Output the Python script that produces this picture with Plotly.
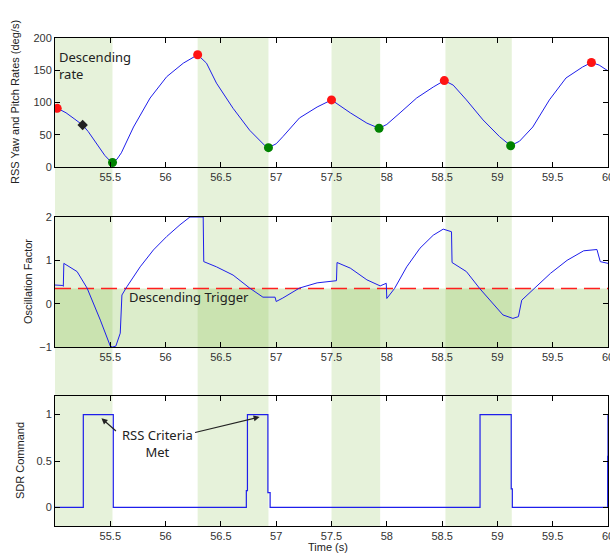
import plotly.graph_objects as go

# ---------------- data ----------------
band_start = [55.0, 56.29, 57.50, 58.53]
band_end = [55.52, 56.93, 57.94, 59.13]

rate_t = [55.0, 55.02, 55.1, 55.18, 55.25, 55.3, 55.35, 55.4, 55.45, 55.5, 55.52, 55.56, 55.6,
          55.71, 55.86, 56.01, 56.16, 56.29, 56.37, 56.46, 56.61, 56.76, 56.91, 56.93, 57.0,
          57.06, 57.21, 57.37, 57.5, 57.67, 57.82, 57.93, 58.0, 58.12, 58.27, 58.42, 58.52,
          58.6, 58.72, 58.87, 59.02, 59.12, 59.2, 59.32, 59.47, 59.62, 59.77, 59.85, 59.92, 60.0]
rate_v = [93, 91, 84, 74, 65, 55, 42, 30, 18, 9, 7, 12, 22,
          62, 107, 140, 161, 174, 161, 130, 91, 57, 31, 30, 36,
          47, 76, 93, 104, 84, 68, 60, 66, 84, 107, 124, 134,
          127, 104, 73, 47, 33, 40, 62, 104, 138, 155, 162, 158, 149]

peak_t = [55.02, 56.29, 57.5, 58.52, 59.85]
peak_v = [91, 174, 104, 134, 162]
valley_t = [55.52, 56.93, 57.93, 59.12]
valley_v = [7, 30, 60, 33]
desc_t = [55.25]
desc_v = [65]

osc_t = [55.0, 55.07, 55.075, 55.08, 55.2, 55.29, 55.41, 55.5, 55.52, 55.55, 55.59, 55.605,
         55.65, 55.77, 55.89, 56.01, 56.13, 56.22, 56.34, 56.345, 56.46, 56.61, 56.76, 56.88,
         56.99, 57.0, 57.06, 57.21, 57.37, 57.545, 57.55, 57.67, 57.82, 57.94, 57.995, 58.0,
         58.07, 58.18, 58.3, 58.42, 58.51, 58.585, 58.59, 58.72, 58.84, 58.96, 59.05, 59.14,
         59.19, 59.22, 59.33, 59.48, 59.63, 59.78, 59.9, 59.93, 60.0]
osc_v = [0.43, 0.42, 0.40, 0.93, 0.74, 0.36, -0.38, -0.98, -1.0, -0.98, -0.68, 0.2,
         0.39, 0.85, 1.24, 1.55, 1.82, 2.0, 2.0, 0.97, 0.85, 0.66, 0.36, 0.15,
         0.15, 0.05, 0.13, 0.36, 0.48, 0.53, 0.95, 0.82, 0.55, 0.41, 0.47, 0.12,
         0.35, 0.85, 1.28, 1.58, 1.72, 1.66, 0.95, 0.74, 0.35, 0.01, -0.26, -0.34,
         -0.30, 0.08, 0.35, 0.70, 1.0, 1.22, 1.25, 0.97, 0.93]
trigger_level = 0.35

sdr_t = [55.0, 55.256, 55.527, 56.73, 56.74, 56.925, 56.945, 58.843, 59.125, 59.135, 59.997, 60.0]
sdr_v = [0, 1, 0, 0.18, 1, 0.16, 0, 1, 0.2, 0, 0.55, 1]

x_ticks = [55.5, 56, 56.5, 57, 57.5, 58, 58.5, 59, 59.5, 60]
x_tick_text = ["55.5", "56", "56.5", "57", "57.5", "58", "58.5", "59", "59.5", "60"]
rate_ticks = [0, 50, 100, 150, 200]
osc_ticks = [-1, 0, 1, 2]
sdr_ticks = [0, 0.5, 1]
sdr_tick_text = ["0", "0.5", "1"]

# ---------------- layout geometry ----------------
W, H = 610, 556
def fx(px):
    return px / W
def fy(px):
    return 1 - px / H

XDOM = [fx(55), fx(608)]
DOM1 = [fy(167), fy(38)]
DOM2 = [fy(347), fy(217)]
DOM3 = [fy(526), fy(396)]

LINE = "rgb(30,30,235)"
TICKFONT = dict(family="Liberation Sans, Arial", size=11, color="#333333")
NOTEFONT = dict(family="Noto Sans, Open Sans", size=13, color="#222222")
LABELFONT = dict(family="Liberation Sans, Arial", size=11, color="#222222")

fig = go.Figure()

fig.add_trace(go.Scatter(x=rate_t, y=rate_v, mode="lines", line=dict(color=LINE, width=1),
                         xaxis="x", yaxis="y", showlegend=False))
fig.add_trace(go.Scatter(x=peak_t, y=peak_v, mode="markers",
                         marker=dict(color="rgb(255,20,20)", size=9), xaxis="x", yaxis="y",
                         showlegend=False))
fig.add_trace(go.Scatter(x=valley_t, y=valley_v, mode="markers",
                         marker=dict(color="rgb(0,130,0)", size=9), xaxis="x", yaxis="y",
                         showlegend=False))
fig.add_trace(go.Scatter(x=desc_t, y=desc_v, mode="markers",
                         marker=dict(color="#222222", size=8, symbol="diamond"),
                         xaxis="x", yaxis="y", showlegend=False))

fig.add_trace(go.Scatter(x=[55, 60], y=[trigger_level, trigger_level], mode="lines",
                         line=dict(color="rgb(255,30,30)", width=1.5, dash="16px,7px"),
                         xaxis="x2", yaxis="y2", showlegend=False))
fig.add_trace(go.Scatter(x=osc_t, y=osc_v, mode="lines", line=dict(color=LINE, width=1),
                         xaxis="x2", yaxis="y2", showlegend=False))

fig.add_trace(go.Scatter(x=sdr_t, y=sdr_v, mode="lines", line=dict(color=LINE, width=1.2, shape="hv"),
                         xaxis="x3", yaxis="y3", showlegend=False))

shapes = []
for s, e in zip(band_start, band_end):
    shapes.append(dict(type="rect", xref="x", yref="paper", x0=s, x1=e, y0=DOM3[0], y1=DOM1[1],
                       fillcolor="rgba(130,190,70,0.2)", line=dict(width=0), layer="below"))
shapes.append(dict(type="rect", xref="x2", yref="y2", x0=55, x1=60, y0=-1, y1=trigger_level,
                   fillcolor="rgba(130,190,70,0.28)", line=dict(width=0), layer="below"))

def xaxis(anchor):
    return dict(domain=XDOM, range=[55, 60], anchor=anchor, tickvals=x_ticks, ticktext=x_tick_text,
                ticks="inside", ticklen=5, tickcolor="black", showline=True, linecolor="black",
                linewidth=1, mirror="ticks", showgrid=False, zeroline=False, tickfont=TICKFONT,
                automargin=False, ticklabeloverflow="allow")

def yaxis(anchor, dom, rng, tv, tt=None):
    d = dict(domain=dom, range=rng, anchor=anchor, tickvals=tv, ticks="inside", ticklen=5,
             tickcolor="black", showline=True, linecolor="black", linewidth=1, mirror="ticks",
             showgrid=False, zeroline=False, tickfont=TICKFONT, automargin=False,
             ticklabeloverflow="allow")
    if tt is not None:
        d["ticktext"] = tt
    return d

annotations = [
    dict(text="Descending<br>rate", x=fx(57), y=fy(46), xref="paper", yref="paper",
         xanchor="left", yanchor="top", showarrow=False, align="left", font=NOTEFONT),
    dict(text="Descending Trigger", x=fx(127), y=fy(297), xref="paper", yref="paper",
         xanchor="left", yanchor="middle", showarrow=False, font=NOTEFONT),
    dict(text="RSS Criteria<br>Met", x=fx(157), y=fy(443), xref="paper", yref="paper",
         xanchor="center", yanchor="middle", showarrow=False, align="center", font=NOTEFONT),
    dict(text="", x=55.42, y=0.96, xref="x3", yref="y3", showarrow=True, ax=16, ay=14,
         arrowhead=2, arrowsize=1, arrowwidth=1.2, arrowcolor="#222222"),
    dict(text="", x=56.85, y=0.975, xref="x3", yref="y3", showarrow=True, ax=-66, ay=16,
         arrowhead=2, arrowsize=1, arrowwidth=1.2, arrowcolor="#222222"),
    dict(text="RSS Yaw and Pitch Rates (deg/s)", x=fx(15), y=fy(102), xref="paper", yref="paper",
         textangle=-90, showarrow=False, xanchor="center", yanchor="middle", font=LABELFONT),
    dict(text="Oscillation Factor", x=fx(28), y=fy(282), xref="paper", yref="paper",
         textangle=-90, showarrow=False, xanchor="center", yanchor="middle", font=LABELFONT),
    dict(text="SDR Command", x=fx(20), y=fy(461), xref="paper", yref="paper",
         textangle=-90, showarrow=False, xanchor="center", yanchor="middle", font=LABELFONT),
    dict(text="Time (s)", x=fx(328), y=fy(547), xref="paper", yref="paper",
         showarrow=False, xanchor="center", yanchor="middle", font=LABELFONT),
]

fig.update_layout(
    width=W, height=H,
    margin=dict(l=0, r=0, t=0, b=0, pad=0, autoexpand=False),
    paper_bgcolor="white", plot_bgcolor="rgba(0,0,0,0)",
    xaxis=xaxis("y"), xaxis2=xaxis("y2"), xaxis3=xaxis("y3"),
    yaxis=yaxis("x", DOM1, [0, 200], rate_ticks),
    yaxis2=yaxis("x2", DOM2, [-1, 2], osc_ticks),
    yaxis3=yaxis("x3", DOM3, [-0.2, 1.2], sdr_ticks, sdr_tick_text),
    shapes=shapes, annotations=annotations, showlegend=False,
)

fig.write_html("out.html", config={"responsive": False, "displayModeBar": False},
               post_script="document.body.style.margin='0px';document.body.style.overflow='hidden';")
